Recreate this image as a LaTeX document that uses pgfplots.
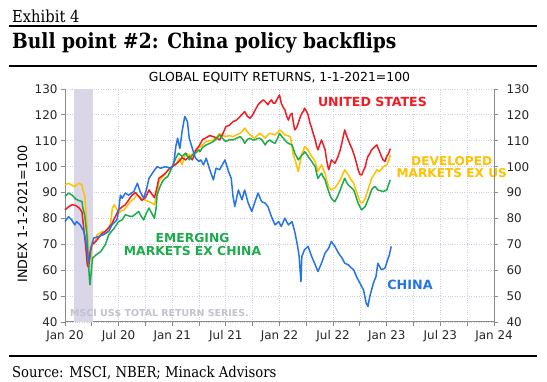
\documentclass[border=0pt]{standalone}
\usepackage{fontspec}
\setmainfont{DejaVu Sans}
\newfontfamily\hdr[FakeStretch=0.89]{DejaVu Serif}
\usepackage{pgfplots}
\pgfplotsset{compat=1.18}
\definecolor{redc}{HTML}{EE1D23}
\definecolor{yelc}{HTML}{FFC000}
\definecolor{grnc}{HTML}{1DAA4C}
\definecolor{bluc}{HTML}{2673E8}
\definecolor{gridc}{HTML}{CFCBE0}
\definecolor{axisc}{HTML}{8A8A8A}
\definecolor{shadec}{HTML}{DAD5E7}
\definecolor{notec}{HTML}{C2C2CA}
\begin{document}
\begin{tikzpicture}
\useasboundingbox (0,0) rectangle (547bp,382bp);
% header
\node[anchor=base west, inner sep=0] at (12bp,359.5bp) {\hdr\fontsize{16.6}{18}\selectfont Exhibit 4};
\draw[line width=2bp] (9bp,356bp) -- (537bp,356bp);
\node[anchor=base west, inner sep=0] at (12bp,333bp) {\hdr\bfseries\fontsize{21}{24}\selectfont Bull point \#2: China policy backflips};
\draw[line width=2bp] (9bp,316bp) -- (537bp,316bp);
\draw[line width=2bp] (9bp,26bp) -- (537bp,26bp);
\node[anchor=base west, inner sep=0] at (12bp,5bp) {\hdr\fontsize{14.9}{17}\selectfont Source: MSCI, NBER; Minack Advisors};
\node[anchor=base, inner sep=0] at (279.5bp,300.5bp) {\fontsize{12.5}{14}\selectfont GLOBAL EQUITY RETURNS, 1-1-2021=100};
\node[rotate=90, anchor=center, inner sep=0] at (22.5bp,168bp) {\fontsize{12.8}{14}\selectfont INDEX 1-1-2021=100};

\begin{axis}[
  at={(65bp,60bp)}, anchor=south west,
  scale only axis, width=429bp, height=233bp,
  xmin=0, xmax=48, ymin=40, ymax=130,
  axis x line*=bottom, axis y line*=left,
  axis line style={-, draw=axisc, line width=1bp},
  xtick={0,6,...,48},
  xticklabels={Jan 20,Jul 20,Jan 21,Jul 21,Jan 22,Jul 22,Jan 23,Jul 23,Jan 24},
  minor xtick={3,9,...,45},
  ytick={40,50,...,130},
  grid=both,
  major grid style={draw=gridc, dotted, line width=0.8bp},
  minor grid style={draw=gridc, dotted, line width=0.8bp},
  tick align=outside,
  major tick length=4bp, minor tick length=4bp,
  every tick/.style={draw=axisc, line width=0.9bp},
  /pgf/number format/assume math mode=true,
  tick label style={font=\fontsize{12}{14}\selectfont, text=black!85},
  xticklabel style={yshift=-1bp},
  clip=false,
]
\fill[shadec] (axis cs:1,40) rectangle (axis cs:3.1,130);
\node[anchor=west, inner sep=0, text=notec, font=\bfseries\fontsize{9.5}{11}\selectfont] at (axis cs:0.56,43.4) {MSCI US\$ TOTAL RETURN SERIES.};

% Developed markets ex US
\addplot[yelc, line width=1.5bp, line join=round] coordinates {
(0,93)(0.4,93.6)(0.8,92.8)(1.1,92.3)(1.5,93.6)(1.9,93)(2.0,91)(2.2,89)(2.35,82.7)(2.5,75)(2.65,68.5)(2.8,65)(2.9,63.4)(3.0,68)(3.1,71)(3.3,70.4)(3.6,73.7)(4.0,74.5)(4.3,75)(4.6,74.2)(4.9,76.2)(5.1,78)(5.3,84)(5.5,85.3)(5.8,83.5)(6.0,82)(6.3,83)(6.6,83.3)(7.0,85)(7.3,86.5)(7.7,87.5)(8.0,89)(8.3,88.5)(8.6,87.8)(9.0,87)(9.4,86.5)(9.7,86)(10.0,85.3)(10.3,90)(10.5,94.3)(10.8,95.5)(11.1,96.8)(11.6,98.8)(12.0,100)(12.4,100.7)(12.8,103.3)(13.1,100.7)(13.5,105.2)(13.9,104.5)(14.2,104.5)(14.7,107)(15.1,107.5)(15.4,108.4)(15.8,109.7)(16.2,110)(16.6,110.3)(17.0,111.5)(17.3,112.9)(17.6,112)(18.0,111.6)(18.4,112)(18.8,111.6)(19.2,112.3)(19.6,112.9)(19.9,114)(20.1,114.9)(20.4,113.5)(20.7,112.3)(21.0,111.5)(21.2,111)(21.5,112)(21.8,112.9)(22.1,112)(22.4,111)(22.6,112)(22.9,112.9)(23.2,112.6)(23.5,112.3)(23.8,113.2)(24.0,114.2)(24.3,113.5)(24.6,112.3)(24.9,112)(25.2,111.6)(25.35,109)(25.5,105.2)(25.7,103)(25.9,100.7)(26.1,98.1)(26.3,101.5)(26.5,105.2)(26.7,106.5)(26.8,107.8)(27.0,107.2)(27.2,106.5)(27.4,105.2)(27.6,104)(27.8,103)(28.0,102)(28.15,100)(28.3,98.1)(28.5,99.5)(28.7,100.7)(28.9,99)(29.1,97.5)(29.3,94.5)(29.5,92.3)(29.65,91.5)(29.8,91)(30.0,91.5)(30.2,91.7)(30.5,93.3)(30.8,94.9)(31.0,96.5)(31.3,98.8)(31.5,97.8)(31.7,96.8)(32.0,95)(32.3,93.6)(32.55,91)(32.8,88.5)(33.0,86.5)(33.2,85.9)(33.4,86.5)(33.6,87.8)(33.75,89.5)(33.9,91)(34.1,93.2)(34.3,95.5)(34.6,97)(34.9,98.8)(35.2,98.1)(35.4,99)(35.6,100)(36.0,100.7)(36.2,102)(36.4,104.5)
};
% United States
\addplot[redc, line width=1.5bp, line join=round] coordinates {
(0,83.3)(0.4,84.5)(0.8,85.3)(1.2,85.0)(1.6,84.0)(1.9,82.5)(2.1,76)(2.3,69.8)(2.5,62)(2.65,61)(2.8,67)(3.0,69.8)(3.4,71)(3.75,72.4)(4.1,74)(4.5,75)(4.9,76.5)(5.25,78)(5.6,80.5)(6.0,83.3)(6.4,84.5)(6.75,85.3)(7.1,87)(7.5,89)(7.9,90)(8.25,88.5)(8.6,87)(9.0,88)(9.4,91)(9.7,89.5)(10.0,88)(10.3,92)(10.5,95.5)(10.9,96.5)(11.25,97.5)(11.6,99)(12.0,100)(12.4,101)(12.75,102)(13.1,103.5)(13.5,102.6)(13.9,104)(14.25,102.6)(14.6,106)(15.0,108)(15.4,110.5)(15.8,111.2)(16.2,112)(16.6,111.6)(17.0,111)(17.3,110.3)(17.7,113)(18.0,115.5)(18.4,116)(18.8,117.4)(19.2,118)(19.6,119.4)(19.9,120.5)(20.1,121.3)(20.4,119.5)(20.7,118.7)(21.0,120)(21.3,122)(21.6,123.9)(21.9,125)(22.2,125.8)(22.5,124.8)(22.7,123.9)(22.9,125)(23.1,125.8)(23.3,124.5)(23.5,124.5)(23.8,126.5)(24.0,127.7)(24.2,124.5)(24.4,123)(24.6,122)(24.8,119.5)(25.0,118)(25.2,120)(25.4,120.6)(25.55,117)(25.7,114.2)(25.9,115)(26.1,116.8)(26.3,119)(26.5,120.6)(26.7,121.5)(26.8,122.6)(27.0,121.5)(27.2,120)(27.4,117)(27.6,114.9)(27.8,112.5)(28.0,110.3)(28.15,108)(28.3,106.5)(28.5,108.5)(28.7,110.3)(28.9,108.5)(29.1,106.5)(29.3,102)(29.5,98.8)(29.65,100.5)(29.8,102.6)(30.0,102)(30.2,101.3)(30.5,103.5)(30.8,106.5)(31.0,109.5)(31.3,114.2)(31.5,112)(31.7,110.3)(31.9,108.5)(32.1,107)(32.3,105)(32.4,104)(32.6,101.5)(32.8,98.8)(33.0,97)(33.2,96.8)(33.4,98.5)(33.6,100)(33.75,102.5)(33.9,104)(34.1,105)(34.3,106.5)(34.6,107.5)(34.9,108.4)(35.05,107)(35.2,105.8)(35.4,104)(35.6,102.6)(35.8,102)(36.0,104)(36.2,105)(36.4,107)
};
% Emerging markets ex China
\addplot[grnc, line width=1.5bp, line join=round] coordinates {
(0,88.5)(0.4,89.8)(0.8,89)(1.2,87.5)(1.5,87)(1.9,86.5)(2.0,84)(2.2,81.4)(2.45,73.7)(2.6,63.4)(2.75,56)(2.8,54.4)(2.95,60)(3.0,62)(3.1,64.7)(3.5,66)(4.0,67.2)(4.5,69.8)(4.9,73.7)(5.2,75)(5.5,76.2)(6.0,78.8)(6.4,79.5)(6.75,81.4)(7.1,81)(7.5,80.7)(8.0,82)(8.25,82.7)(8.5,81)(8.8,79.4)(9.1,82)(9.4,84)(9.7,82)(10.0,80.1)(10.2,84)(10.3,89)(10.6,92)(10.9,94.3)(11.2,95.5)(11.5,96.2)(12.0,100)(12.4,103.3)(12.7,105.2)(13.1,104)(13.5,105.2)(13.9,102.6)(14.25,104.5)(14.7,105.5)(15.0,106.5)(15.1,105.8)(15.4,107.5)(15.8,108.4)(16.2,109)(16.6,109.7)(17.0,111)(17.3,112.3)(17.6,111)(18.0,109.7)(18.4,110.5)(18.8,110.3)(19.2,111)(19.6,111.6)(19.9,110.5)(20.1,109)(20.4,110.5)(20.7,111)(21.0,110.3)(21.2,110.3)(21.5,110.8)(21.8,111)(22.1,110)(22.4,108.4)(22.6,109.5)(22.9,110.3)(23.2,109.5)(23.5,109)(23.8,111)(24.0,112.9)(24.3,111.5)(24.6,110.3)(24.8,109.5)(25.0,109)(25.2,108.7)(25.4,108.4)(25.55,107)(25.7,105.2)(25.9,104)(26.1,102.6)(26.3,103.5)(26.5,104.5)(26.7,105)(26.8,105.8)(27.0,105)(27.2,104)(27.4,103)(27.6,102)(27.8,101)(28.0,100)(28.15,97.5)(28.3,95.5)(28.5,96.5)(28.7,97.5)(28.9,96)(29.1,94.9)(29.3,92.5)(29.5,90.4)(29.65,89)(29.8,87.8)(30.0,87)(30.2,86.5)(30.5,88.5)(30.8,91)(31.0,93)(31.3,95.5)(31.5,94)(31.7,92.9)(32.0,92)(32.3,91)(32.55,88.5)(32.8,85.9)(33.0,84.5)(33.2,83.3)(33.4,84)(33.6,84.6)(33.75,86)(33.9,87.2)(34.1,89)(34.3,91)(34.5,92)(34.7,92.3)(35.0,91)(35.3,90.7)(35.6,90.4)(36.0,91)(36.2,93)(36.4,94.9)
};
% China
\addplot[bluc, line width=1.5bp, line join=round] coordinates {
(0,78.8)(0.4,80.7)(0.75,79.4)(1.1,77.5)(1.3,78.8)(1.7,77.5)(2.1,75)(2.3,72)(2.5,67.2)(2.65,63)(2.8,65)(2.9,68.5)(3.2,72.4)(3.75,73)(4.3,73.7)(4.9,75)(5.25,77.5)(5.8,79.4)(6.0,83)(6.2,89)(6.4,87.8)(6.75,89.8)(7.1,89)(7.7,90.4)(8.1,93.6)(8.4,90.4)(8.8,87.8)(9.1,91)(9.4,95.5)(9.9,98.1)(10.3,100)(10.7,99.4)(11.25,100)(11.8,99.4)(12.0,100)(12.2,102)(12.4,107.8)(12.6,111)(12.85,107)(13.1,113.6)(13.4,119.4)(13.7,117.4)(13.9,111)(14.25,107)(14.6,103.3)(15.0,102)(15.2,102.6)(15.5,100.7)(15.8,103.3)(16.2,98.8)(16.6,94.9)(16.9,99.4)(17.3,98.8)(17.9,102.6)(18.3,98.1)(18.6,95.5)(18.8,88.5)(19.0,84.6)(19.4,91)(19.8,87.2)(20.1,91)(20.5,85.9)(20.9,82.7)(21.2,85.9)(21.6,89.8)(22.0,86.5)(22.4,85.9)(22.7,84.6)(23.1,80.7)(23.5,77.5)(23.9,78.8)(24.2,76.9)(24.6,80.1)(25.0,77.5)(25.4,78.8)(25.7,75)(26.0,69.8)(26.2,65.3)(26.4,55.6)(26.5,65.3)(26.8,67.9)(27.2,69.2)(27.6,65.3)(28.0,62.1)(28.3,59.5)(28.7,62.7)(29.1,66.6)(29.5,68.5)(29.8,71.1)(30.2,69.2)(30.6,66.6)(31.0,64.7)(31.3,62.7)(31.7,62.1)(32.0,61)(32.3,60.2)(32.6,57.6)(33.0,55)(33.4,52.4)(33.7,47.3)(33.9,46)(34.1,49.9)(34.3,52.4)(34.5,55)(34.8,57.6)(35.0,62.7)(35.4,60.2)(35.8,60.8)(36.1,64)(36.3,66)(36.5,69.2)
};

\node[text=redc, font=\bfseries\fontsize{12.6}{14}\selectfont] at (axis cs:34.4,125) {UNITED STATES};
\node[text=yelc, font=\bfseries\fontsize{12.2}{14}\selectfont, align=center, inner sep=0] at (axis cs:43.27,99.9) {DEVELOPED\\[-1.5bp]MARKETS EX US};
\node[text=grnc, font=\bfseries\fontsize{12.4}{14}\selectfont, align=center, inner sep=0] at (axis cs:14.27,70.1) {EMERGING\\[-1bp]MARKETS EX CHINA};
\node[text=bluc, font=\bfseries\fontsize{12.8}{14}\selectfont] at (axis cs:38.6,54.3) {CHINA};
\end{axis}

\begin{axis}[
  at={(65bp,60bp)}, anchor=south west,
  scale only axis, width=429bp, height=233bp,
  xmin=0, xmax=48, ymin=40, ymax=130,
  axis y line*=right, axis x line=none,
  axis line style={-, draw=axisc, line width=1bp},
  ytick={40,50,...,130},
  tick align=outside, major tick length=4bp,
  every tick/.style={draw=axisc, line width=0.9bp},
  /pgf/number format/assume math mode=true,
  tick label style={font=\fontsize{12}{14}\selectfont, text=black!85},
  yticklabel style={xshift=5bp},
]
\addplot[draw=none] coordinates {(0,40)};
\end{axis}
\end{tikzpicture}
\end{document}
